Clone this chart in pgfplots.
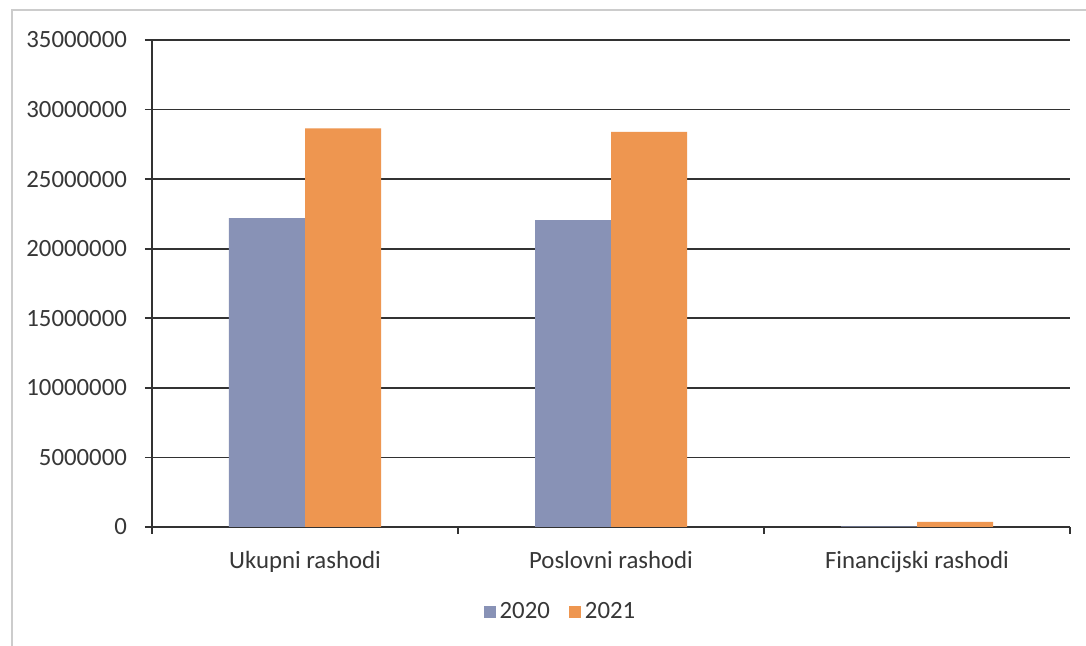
\documentclass[border=0pt]{standalone}
\usepackage{fontspec}
\setmainfont{Carlito}
\usepackage{pgfplots}
\pgfplotsset{compat=1.18}
\definecolor{c2020}{RGB}{136,146,182}
\definecolor{c2021}{RGB}{238,150,80}
\definecolor{txt}{RGB}{55,55,55}
\definecolor{gridc}{RGB}{50,50,50}
\begin{document}
\begin{tikzpicture}
\path[use as bounding box] (-76pt,-59.5pt) rectangle (467pt,263.5pt);
\fill[white] (-76pt,-59.5pt) rectangle (467pt,263.5pt);
\draw[gray!40, line width=0.8pt] (-70pt,-80pt) -- (-70pt,258.5pt) -- (480pt,258.5pt);
\begin{axis}[
  at={(0,0)}, anchor=south west,
  width=459pt, height=243.5pt, scale only axis,
  xmin=-0.5, xmax=2.5, ymin=0, ymax=35000000,
  ybar=0pt, bar width=38pt,
  axis lines=left,
  axis line style={-, draw=gridc, line width=0.8pt},
  ymajorgrids, grid style={draw=gridc, line width=0.8pt},
  xtick={0,1,2},
  xticklabels={Ukupni rashodi, Poslovni rashodi, Financijski rashodi},
  minor xtick={-0.5,0.5,1.5,2.5},
  every major x tick/.append style={draw=none},
  every minor x tick/.append style={draw=gridc, line width=0.8pt},
  minor tick length=3.5pt,
  major tick length=3.5pt,
  tick align=outside,
  ytick={0,5000000,10000000,15000000,20000000,25000000,30000000,35000000},
  yticklabels={0,5000000,10000000,15000000,20000000,25000000,30000000,35000000},
  scaled y ticks=false,
  ytick style={draw=gridc, line width=0.8pt},
  tick label style={font=\fontsize{12.4}{14}\selectfont, text=txt},
  yticklabel style={xshift=-5.5pt},
  xticklabel style={yshift=-5pt},
  legend style={at={(0.446,-0.175)}, anchor=center, draw=none, fill=none,
    legend columns=2, font=\fontsize{12.4}{14}\selectfont, text=txt,
    /tikz/every even column/.append style={column sep=7.5pt}},
  legend image code/.code={\fill[#1] (0pt,-3pt) rectangle (6pt,3pt);},
]
\addplot[fill=c2020, draw=none] coordinates {(0,22200000) (1,22050000) (2,50000)};
\addplot[fill=c2021, draw=none] coordinates {(0,28650000) (1,28400000) (2,360000)};
\legend{2020,2021}
\end{axis}
\end{tikzpicture}
\end{document}
